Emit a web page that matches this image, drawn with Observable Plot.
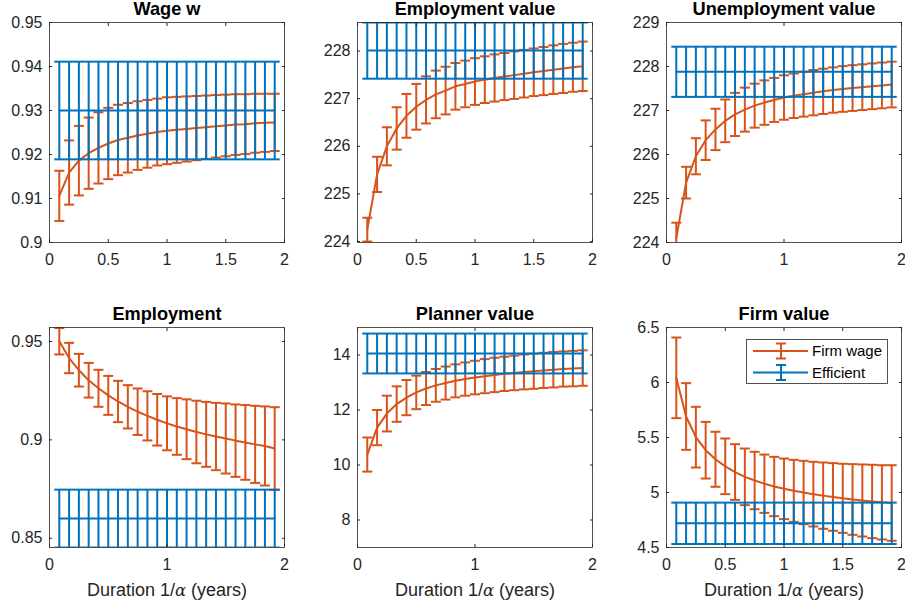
<!DOCTYPE html>
<html>
<head>
<meta charset="utf-8">
<script src="https://cdn.jsdelivr.net/npm/d3@7"></script>
<script src="https://cdn.jsdelivr.net/npm/@observablehq/plot@0.6"></script>
<style>
  body { margin: 0; background: #fff; }
  #fig { position: relative; width: 905px; height: 604px; overflow: hidden; background: #fff;
         font-family: "Liberation Sans", Arial, Helvetica, sans-serif; }
  .panel { position: absolute; }
  .legend { position: absolute; }
</style>
</head>
<body>
<div id="fig"></div>
<script>
// ---------- data ----------
const duration = [0.0833, 0.1667, 0.25, 0.3333, 0.4167, 0.5, 0.5833, 0.6667, 0.75, 0.8333, 0.9167, 1.0,
                  1.0833, 1.1667, 1.25, 1.3333, 1.4167, 1.5, 1.5833, 1.6667, 1.75, 1.8333, 1.9167];

const seriesNames = ["Firm wage", "Efficient"];
const xLabel = "Duration 1/α (years)";

// Wage w
const wageFirm = [0.9106, 0.9159, 0.9186, 0.9203, 0.9215, 0.9225, 0.9233, 0.9238, 0.9243, 0.9247, 0.9251, 0.9254,
                  0.9256, 0.9258, 0.9260, 0.9262, 0.9264, 0.9266, 0.9268, 0.9269, 0.9271, 0.9272, 0.9273];
const wageFirmErr = [0.0057, 0.0073, 0.0079, 0.0081, 0.0081, 0.0081, 0.0080, 0.0079, 0.0078, 0.0077, 0.0076, 0.0076,
                     0.0075, 0.0074, 0.0073, 0.0072, 0.0071, 0.0070, 0.0069, 0.0068, 0.0067, 0.0066, 0.0065];
const wageEff = 0.9300, wageEffErr = 0.0111;

// Employment value
const empValFirm = [224.25, 225.41, 226.00, 226.375, 226.64, 226.83, 226.975, 227.09, 227.17, 227.26, 227.31, 227.36,
                    227.40, 227.435, 227.465, 227.495, 227.525, 227.555, 227.58, 227.61, 227.635, 227.66, 227.68];
const empValFirmErr = [0.25, 0.37, 0.40, 0.445, 0.46, 0.48, 0.495, 0.50, 0.50, 0.49, 0.49, 0.49,
                       0.49, 0.495, 0.495, 0.50, 0.50, 0.50, 0.505, 0.51, 0.515, 0.515, 0.52];
const empValEff = 228.01, empValEffErr = 0.59;

// Unemployment value
const unempValFirm = [224.10, 225.36, 225.96, 226.325, 226.57, 226.765, 226.91, 227.02, 227.11, 227.18, 227.24, 227.295,
                      227.335, 227.37, 227.405, 227.435, 227.465, 227.49, 227.51, 227.53, 227.55, 227.57, 227.59];
const unempValFirmErr = [0.35, 0.36, 0.41, 0.45, 0.47, 0.485, 0.49, 0.50, 0.50, 0.505, 0.50, 0.505,
                         0.505, 0.51, 0.515, 0.515, 0.515, 0.52, 0.52, 0.52, 0.52, 0.52, 0.52];
const unempValEff = 227.88, unempValEffErr = 0.57;

// Employment
const emplFirm = [0.9501, 0.9416, 0.9354, 0.9303, 0.9262, 0.9226, 0.9195, 0.9168, 0.9143, 0.9122, 0.9102, 0.9084,
                  0.9068, 0.9054, 0.9040, 0.9028, 0.9017, 0.9007, 0.8996, 0.8987, 0.8977, 0.8969, 0.8956];
const emplFirmErr = [0.0067, 0.0077, 0.0083, 0.0088, 0.0094, 0.0099, 0.0105, 0.0110, 0.0118, 0.0125, 0.0131, 0.0137,
                     0.0144, 0.0152, 0.0159, 0.0165, 0.0171, 0.0178, 0.0184, 0.0190, 0.0196, 0.0201, 0.0210];
const emplEff = 0.8600, emplEffErr = 0.0147;

// Planner value
const planFirm = [10.38, 11.36, 11.87, 12.215, 12.45, 12.64, 12.78, 12.895, 12.98, 13.06, 13.125, 13.18,
                  13.23, 13.275, 13.315, 13.35, 13.385, 13.41, 13.44, 13.465, 13.49, 13.505, 13.525];
const planFirmErr = [0.62, 0.64, 0.65, 0.645, 0.64, 0.61, 0.60, 0.595, 0.60, 0.60, 0.605, 0.61,
                     0.62, 0.625, 0.625, 0.63, 0.635, 0.64, 0.64, 0.645, 0.64, 0.645, 0.645];
const planEff = 14.055, planEffErr = 0.725;

// Firm value
const firmValFirm = [6.0425, 5.691, 5.503, 5.3845, 5.302, 5.238, 5.186, 5.1425, 5.109, 5.080, 5.0545, 5.0335,
                     5.015, 5.000, 4.985, 4.9715, 4.9595, 4.947, 4.9365, 4.9275, 4.9185, 4.9105, 4.9045];
const firmValFirmErr = [0.3665, 0.303, 0.276, 0.2575, 0.250, 0.253, 0.253, 0.2575, 0.261, 0.265, 0.2695, 0.2755,
                        0.282, 0.288, 0.294, 0.3015, 0.3075, 0.314, 0.3215, 0.3275, 0.3335, 0.3375, 0.3435];
const firmValEff = 4.72, firmValEffErr = 0.188;

// tick labels
const ticksX5 = [0, 0.5, 1, 1.5, 2];
const ticksX3 = [0, 1, 2];
const ticksWage = [0.9, 0.91, 0.92, 0.93, 0.94, 0.95];
const ticksEmpVal = [224, 225, 226, 227, 228];
const ticksUnempVal = [224, 225, 226, 227, 228, 229];
const ticksEmpl = [0.85, 0.9, 0.95];
const ticksPlan = [8, 10, 12, 14];
const ticksFirmVal = [4.5, 5, 5.5, 6, 6.5];

// ---------- layout / style ----------
const ORANGE = "#D95319", BLUE = "#0072BD", AXIS = "#262626";
const FONT = '"Liberation Sans", Arial, Helvetica, sans-serif';
const ML = 45, MR = 12, MT = 30, MB = 56, FW = 235, FH = 220;

const panels = [
  {title: "Wage w", firm: wageFirm, firmErr: wageFirmErr, eff: wageEff, effErr: wageEffErr,
   yDomain: [0.9, 0.95], yTicks: ticksWage, xTicks: ticksX5, left: 49, top: 22, xlab: false},
  {title: "Employment value", firm: empValFirm, firmErr: empValFirmErr, eff: empValEff, effErr: empValEffErr,
   yDomain: [223.98, 228.6], yTicks: ticksEmpVal, xTicks: ticksX5, left: 357, top: 22, xlab: false},
  {title: "Unemployment value", firm: unempValFirm, firmErr: unempValFirmErr, eff: unempValEff, effErr: unempValEffErr,
   yDomain: [224, 229], yTicks: ticksUnempVal, xTicks: ticksX3, left: 666, top: 22, xlab: false},
  {title: "Employment", firm: emplFirm, firmErr: emplFirmErr, eff: emplEff, effErr: emplEffErr,
   yDomain: [0.8453, 0.9571], yTicks: ticksEmpl, xTicks: ticksX3, left: 49, top: 327, xlab: true},
  {title: "Planner value", firm: planFirm, firmErr: planFirmErr, eff: planEff, effErr: planEffErr,
   yDomain: [7, 15], yTicks: ticksPlan, xTicks: ticksX3, left: 357, top: 327, xlab: true},
  {title: "Firm value", firm: firmValFirm, firmErr: firmValFirmErr, eff: firmValEff, effErr: firmValEffErr,
   yDomain: [4.5, 6.5], yTicks: ticksFirmVal, xTicks: ticksX5, left: 666, top: 327, xlab: true}
];

// horizontal cap symbol (half-width = r)
const capSymbol = {
  draw(context, size) {
    const w = Math.sqrt(size / Math.PI);
    context.moveTo(-w, 0);
    context.lineTo(w, 0);
  }
};

function errorbarMarks(data, color) {
  return [
    Plot.line(data, {x: "x", y: "c", stroke: color, strokeWidth: 2, clip: true}),
    Plot.ruleX(data, {x: "x", y1: d => d.c - d.e, y2: d => d.c + d.e, stroke: color, strokeWidth: 2, clip: true}),
    Plot.dot(data, {x: "x", y: d => d.c + d.e, symbol: capSymbol, r: 5, stroke: color, fill: "none", strokeWidth: 2, clip: true}),
    Plot.dot(data, {x: "x", y: d => d.c - d.e, symbol: capSymbol, r: 5, stroke: color, fill: "none", strokeWidth: 2, clip: true})
  ];
}

const fig = document.getElementById("fig");
const fmt = d => String(d);

for (const p of panels) {
  const firmRows = duration.map((x, i) => ({x, c: p.firm[i], e: p.firmErr[i]}));
  const effRows = duration.map(x => ({x, c: p.eff, e: p.effErr}));
  const marks = [
    ...errorbarMarks(firmRows, ORANGE),
    ...errorbarMarks(effRows, BLUE),
    Plot.frame({stroke: AXIS, strokeWidth: 0.8}),
    Plot.axisY({ticks: p.yTicks, anchor: "left", tickSize: -3, tickPadding: 10, tickFormat: fmt, label: null, fontSize: 16}),
    Plot.axisY({ticks: p.yTicks, anchor: "right", tickSize: -3, tickFormat: () => "", label: null}),
    Plot.axisX({ticks: p.xTicks, anchor: "bottom", tickSize: -3, tickPadding: 14, tickFormat: fmt, label: null, fontSize: 16}),
    Plot.axisX({ticks: p.xTicks, anchor: "top", tickSize: -3, tickFormat: () => "", label: null}),
    Plot.text([p.title], {text: d => d, frameAnchor: "top", dy: -8, lineAnchor: "bottom",
                          fontWeight: "bold", fontSize: 18.2, fill: "#000"})
  ];
  if (p.xlab) {
    marks.push(Plot.text([xLabel], {text: d => d, frameAnchor: "bottom", dy: 48, lineAnchor: "bottom",
                                    fontSize: 18, fill: AXIS}));
  }
  const svg = Plot.plot({
    width: ML + FW + MR,
    height: MT + FH + MB,
    marginLeft: ML, marginRight: MR, marginTop: MT, marginBottom: MB,
    x: {domain: [0, 2]},
    y: {domain: p.yDomain},
    style: {fontFamily: FONT, fontSize: "16px", color: AXIS, background: "transparent", overflow: "visible"},
    marks
  });
  // italic alpha in axis label (TeX style)
  d3.select(svg).selectAll("text").each(function () {
    const t = this.textContent;
    if (t === xLabel) {
      const sel = d3.select(this);
      sel.text(null);
      const [a, b] = t.split("α");
      sel.append("tspan").text(a);
      sel.append("tspan").attr("font-style", "italic").attr("font-family", '"DejaVu Serif", serif').attr("font-size", "16.5px").text("α");
      sel.append("tspan").text(b);
    }
  });
  const div = document.createElement("div");
  div.className = "panel";
  div.style.left = (p.left - ML) + "px";
  div.style.top = (p.top - MT) + "px";
  div.style.width = (ML + FW + MR) + "px";
  div.appendChild(svg);
  fig.appendChild(div);
}

// ---------- legend (inside Firm value panel, northeast) ----------
(function () {
  const LW = 142, LH = 45;
  const svg = d3.create("svg").attr("width", LW).attr("height", LH)
    .style("position", "absolute").style("left", "746px").style("top", "339px").style("overflow", "visible");
  svg.append("rect").attr("x", 0.5).attr("y", 0.5).attr("width", LW - 1).attr("height", LH - 1)
    .attr("fill", "#fff").attr("stroke", AXIS).attr("stroke-width", 0.8);
  const rowsY = [12, 33.5];
  [ORANGE, BLUE].forEach((color, i) => {
    const y = rowsY[i];
    const g = svg.append("g").attr("stroke", color).attr("stroke-width", 2).attr("fill", "none");
    g.append("line").attr("x1", 7).attr("x2", 62).attr("y1", y).attr("y2", y);
    g.append("line").attr("x1", 35).attr("x2", 35).attr("y1", y - 7.5).attr("y2", y + 7.5);
    g.append("line").attr("x1", 30).attr("x2", 40).attr("y1", y - 7.5).attr("y2", y - 7.5);
    g.append("line").attr("x1", 30).attr("x2", 40).attr("y1", y + 7.5).attr("y2", y + 7.5);
    svg.append("text").attr("x", 66).attr("y", y).attr("dy", "0.35em")
      .attr("font-family", FONT).attr("font-size", 15).attr("fill", "#000").text(seriesNames[i]);
  });
  const div = document.createElement("div");
  div.className = "legend";
  div.appendChild(svg.node());
  fig.appendChild(div);
})();
</script>
</body>
</html>
